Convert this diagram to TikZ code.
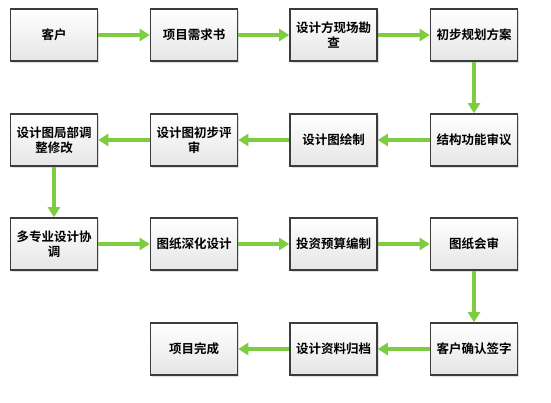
\documentclass[tikz,border=0pt]{standalone}
\usepackage{fontspec}
\newfontfamily\cjk{Noto Sans CJK SC}[BoldFont={Noto Sans CJK SC Bold}]
\usetikzlibrary{arrows.meta,shadows}
\definecolor{arrgreen}{HTML}{7ECC3F}
\definecolor{boxborder}{HTML}{3C3C3C}
\begin{document}
\begin{tikzpicture}[x=1pt,y=-1pt,
  box/.style={draw=boxborder,line width=1.6pt,minimum width=87pt,minimum height=52pt,
    top color=white,bottom color=gray!20,align=center,inner sep=1pt,
    font=\cjk\bfseries\fontsize{12.5}{15}\selectfont,
    drop shadow={shadow xshift=1.5pt,shadow yshift=-1.5pt,opacity=0.25,fill=gray}},
  flow/.style={draw=arrgreen,line width=3.2pt,-{Triangle[length=10pt,width=12pt]}}]
\useasboundingbox (0,0) rectangle (551,402);
\node[box] (a1) at (54,35) {客户};
\node[box] (a2) at (194,35) {项目需求书};
\node[box] (a3) at (333.5,35) {设计方现场勘\\查};
\node[box] (a4) at (474,35) {初步规划方案};
\node[box] (b4) at (474,140) {结构功能审议};
\node[box] (b3) at (333.5,140) {设计图绘制};
\node[box] (b2) at (194,140) {设计图初步评\\审};
\node[box] (b1) at (54,140) {设计图局部调\\整修改};
\node[box] (c1) at (54,244) {多专业设计协\\调};
\node[box] (c2) at (194,244) {图纸深化设计};
\node[box] (c3) at (333.5,244) {投资预算编制};
\node[box] (c4) at (474,244) {图纸会审};
\node[box] (d4) at (474,349) {客户确认签字};
\node[box] (d3) at (333.5,349) {设计资料归档};
\node[box] (d2) at (194,349) {项目完成};
\draw[flow] (a1) -- (a2);
\draw[flow] (a2) -- (a3);
\draw[flow] (a3) -- (a4);
\draw[flow] (a4) -- (b4);
\draw[flow] (b4) -- (b3);
\draw[flow] (b3) -- (b2);
\draw[flow] (b2) -- (b1);
\draw[flow] (b1) -- (c1);
\draw[flow] (c1) -- (c2);
\draw[flow] (c2) -- (c3);
\draw[flow] (c3) -- (c4);
\draw[flow] (c4) -- (d4);
\draw[flow] (d4) -- (d3);
\draw[flow] (d3) -- (d2);
\end{tikzpicture}
\end{document}
